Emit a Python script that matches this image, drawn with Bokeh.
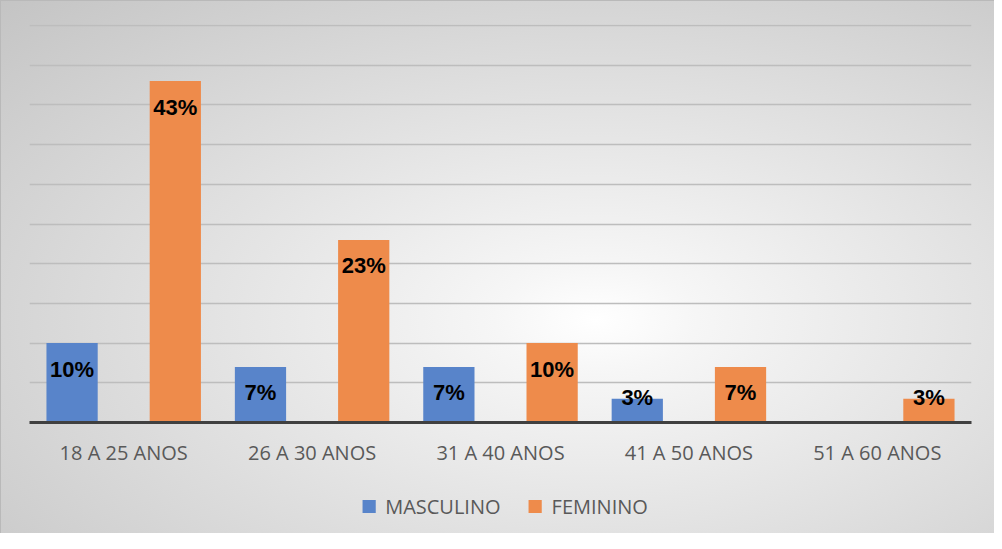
import numpy as np
from bokeh.plotting import figure
from bokeh.layouts import column
from bokeh.models import (FactorRange, Range1d, Legend, LegendItem, ColumnDataSource,
                          InlineStyleSheet, SingleIntervalTicker)
from bokeh.transform import dodge
from bokeh.core.properties import value
from bokeh.embed import file_html
from bokeh.resources import INLINE

# ---- data ----
categories = ["18 A 25 ANOS", "26 A 30 ANOS", "31 A 40 ANOS", "41 A 50 ANOS", "51 A 60 ANOS"]
masculino = [10, 7, 7, 3, 0]
feminino = [43, 23, 10, 7, 3]
masc_labels = ["10%", "7%", "7%", "3%", ""]
fem_labels = ["43%", "23%", "10%", "7%", "3%"]
series_names = ["MASCULINO", "FEMININO"]

BLUE = "#5884CA"
ORANGE = "#EE8B4B"
OFF = 0.274
BW = 0.272
PAD = 3.27      # label inset below bar top (data units)
MINPOS = 3.2    # lowest label centre

m = np.array(masculino, dtype=float)
f = np.array(feminino, dtype=float)
src = ColumnDataSource(dict(
    cat=categories,
    m=m, f=f,
    m_ly=np.maximum(m - PAD, MINPOS),
    f_ly=np.maximum(f - PAD, MINPOS),
    m_lbl=masc_labels, f_lbl=fem_labels,
))

css = InlineStyleSheet(css=""":host {
  background: radial-gradient(ellipse farthest-corner at 60% 60%, #ffffff 0%, #f6f6f6 12%, #c4c4c4 100%);
  box-shadow: inset 1px 1px 0 #b9b9b9;
}""")

p = figure(width=994, height=478, x_range=FactorRange(*categories, range_padding=0),
           y_range=Range1d(0, 50.13), output_backend="svg", toolbar_location=None,
           y_axis_location=None, min_border_left=29, min_border_right=23,
           min_border_top=24, min_border_bottom=56)
p.border_fill_color = None
p.background_fill_color = None
p.outline_line_color = None

r1 = p.vbar(x=dodge("cat", -OFF, range=p.x_range), top="m", width=BW, source=src,
            fill_color=BLUE, line_color=None)
r2 = p.vbar(x=dodge("cat", OFF, range=p.x_range), top="f", width=BW, source=src,
            fill_color=ORANGE, line_color=None)

for xo, ly, lbl in [(-OFF, "m_ly", "m_lbl"), (OFF, "f_ly", "f_lbl")]:
    p.text(x=dodge("cat", xo, range=p.x_range), y=ly, text=lbl, source=src,
           text_font=value("Liberation Sans"), text_font_style="bold",
           text_font_size="22px", text_color="black",
           text_align="center", text_baseline="middle")

p.xgrid.visible = False
p.ygrid.ticker = SingleIntervalTicker(interval=5)
p.ygrid.grid_line_color = "#bdbdbd"
p.ygrid.grid_line_width = 1.5

ax = p.xaxis[0]
ax.axis_line_color = "#404040"
ax.axis_line_width = 3
ax.major_tick_line_color = None
ax.minor_tick_line_color = None
ax.major_tick_out = 0
ax.major_label_text_font = "Open Sans"
ax.major_label_text_font_size = "20px"
ax.major_label_text_color = "#595959"
ax.major_label_standoff = 16

# ---- legend strip below the chart ----
lf = figure(width=994, height=55, x_range=Range1d(0, 1), y_range=Range1d(0, 1),
            output_backend="svg", toolbar_location=None,
            x_axis_location=None, y_axis_location=None, min_border=0)
lf.border_fill_color = None
lf.background_fill_color = None
lf.outline_line_color = None
lf.grid.visible = False
# zero-size swatch renderers (only their legend squares are visible)
key_src = ColumnDataSource(dict(x=[0.5], y=[0.5]))
k1 = lf.scatter(x="x", y="y", size=0, marker="square", source=key_src,
                fill_color=BLUE, line_color=None)
k2 = lf.scatter(x="x", y="y", size=0, marker="square", source=key_src,
                fill_color=ORANGE, line_color=None)

legend = Legend(items=[LegendItem(label=series_names[0], renderers=[k1]),
                       LegendItem(label=series_names[1], renderers=[k2])],
                orientation="horizontal", location="center",
                glyph_width=33, glyph_height=33, label_standoff=0, spacing=18,
                label_text_font="Open Sans", label_text_font_size="20px",
                label_text_color="#595959", padding=0, margin=0,
                background_fill_color=None, border_line_color=None)
lf.add_layout(legend, "center")

layout = column(p, lf, spacing=0)
layout.stylesheets = [css]

open("out.html", "w").write(file_html(layout, INLINE))
